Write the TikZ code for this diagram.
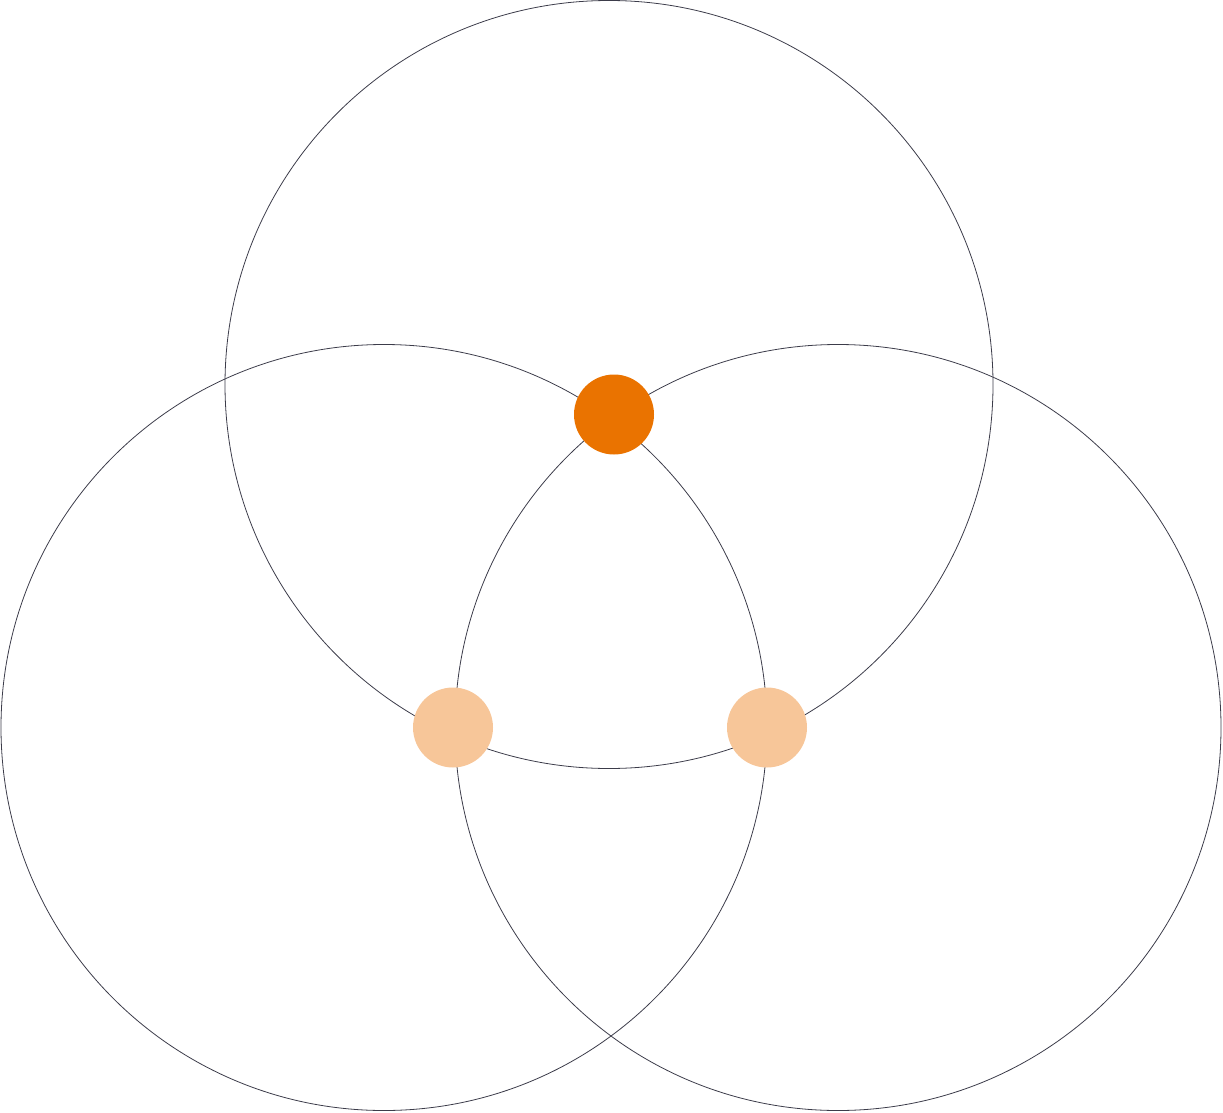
\documentclass[tikz,border=0pt]{standalone}
\begin{document}
\begin{tikzpicture}[x=1pt,y=-1pt,
  ring/.style={draw=ringgray,line width=0.8pt},
  hotdot/.style={circle,fill=hotorange,minimum size=80pt,inner sep=0pt},
  softdot/.style={circle,fill=softorange,minimum size=80pt,inner sep=0pt}]
\definecolor{ringgray}{HTML}{3C3C4A}
\definecolor{hotorange}{HTML}{EA7300}
\definecolor{softorange}{HTML}{F7C699}
\useasboundingbox (0,0) rectangle (1223,1113);
\draw[ring] (609,384.5) circle (384);
\draw[ring] (384,727.5) circle (383);
\draw[ring] (838,727.5) circle (383);
\node[hotdot] (top) at (614,414.5) {};
\node[softdot] (left) at (453,727.5) {};
\node[softdot] (right) at (767,727.5) {};
\end{tikzpicture}
\end{document}
